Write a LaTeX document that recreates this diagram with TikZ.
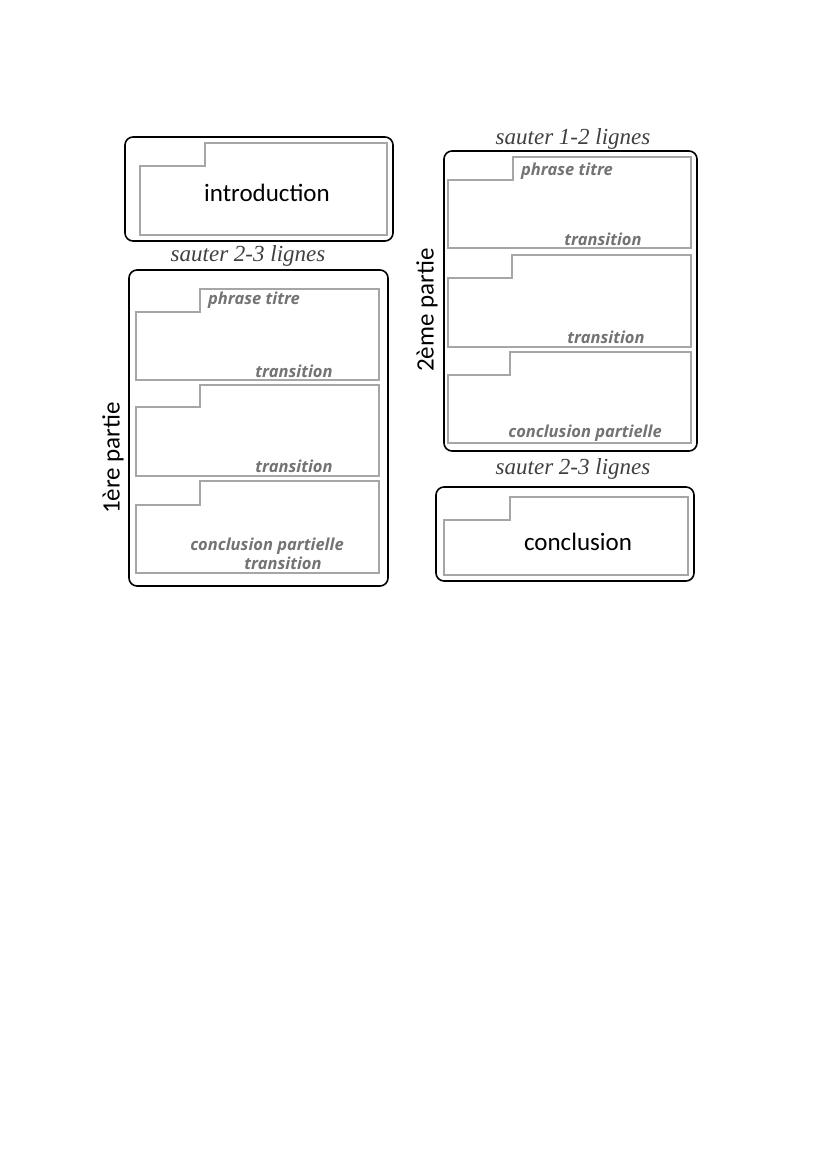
\documentclass[tikz,border=0pt]{standalone}
\usepackage{fontspec}
\setmainfont{Carlito}
\newfontfamily\cursf{Liberation Serif}
\newfontfamily\grayf{Open Sans}
\begin{document}
\begin{tikzpicture}[x=1pt,y=-1pt,
  outer/.style={draw=black,line width=1.6pt,rounded corners=8pt},
  inner/.style={draw=black!35,line width=1.3pt},
  gtxt/.style={text=black!55,font=\fontsize{16.5}{17}\grayf\itshape\bfseries},
  big/.style={font=\fontsize{25}{25}\selectfont},
  curs/.style={font=\fontsize{23}{23}\cursf\itshape,text=black!75}]
\path[fill=white] (0,0) rectangle (828,1169);
\newcommand\stepbox[6]{% left right top stepx stepy bottom
  \draw[inner] (#4,#3) -- (#2,#3) -- (#2,#6) -- (#1,#6) -- (#1,#5) -- (#4,#5) -- cycle;}
% intro
\draw[outer] (125,137) rectangle (393,241);
\stepbox{140}{387}{143}{205}{166}{235}
\node[big] (intro) at (267,193) {introduction};
\node[curs] (s1) at (248,256) {sauter 2-3 lignes};
% part 1
\draw[outer] (129,270) rectangle (388,586);
\stepbox{136}{379}{289}{200}{312}{380}
\stepbox{136}{379}{385}{200}{407}{476}
\stepbox{136}{379}{481}{200}{505}{573}
\node[gtxt] (p1a) at (254,300) {phrase titre};
\node[gtxt] (p1b) at (294,371) {transition};
\node[gtxt] (p1c) at (294,466) {transition};
\node[gtxt] (p1d) at (267,546) {conclusion partielle};
\node[gtxt] (p1e) at (283,563) {transition};
\node[big,rotate=90] (l1) at (113,458) {1ère partie};
% part 2
\node[curs] (s2) at (573,139) {sauter 1-2 lignes};
\draw[outer] (444,151) rectangle (697,451);
\stepbox{448}{691}{157}{513}{180}{248}
\stepbox{448}{691}{255}{512}{278}{347}
\stepbox{448}{691}{352}{510}{375}{443}
\node[gtxt] (p2a) at (567,171) {phrase titre};
\node[gtxt] (p2b) at (603,239) {transition};
\node[gtxt] (p2c) at (606,337) {transition};
\node[gtxt] (p2d) at (585,433) {conclusion partielle};
\node[big,rotate=90] (l2) at (427,310) {2ème partie};
\node[curs] (s3) at (573,469) {sauter 2-3 lignes};
% conclusion
\draw[outer] (436,487) rectangle (694,581);
\stepbox{444}{688}{497}{510}{520}{575}
\node[big] (conc) at (578,542) {conclusion};
\end{tikzpicture}
\end{document}
